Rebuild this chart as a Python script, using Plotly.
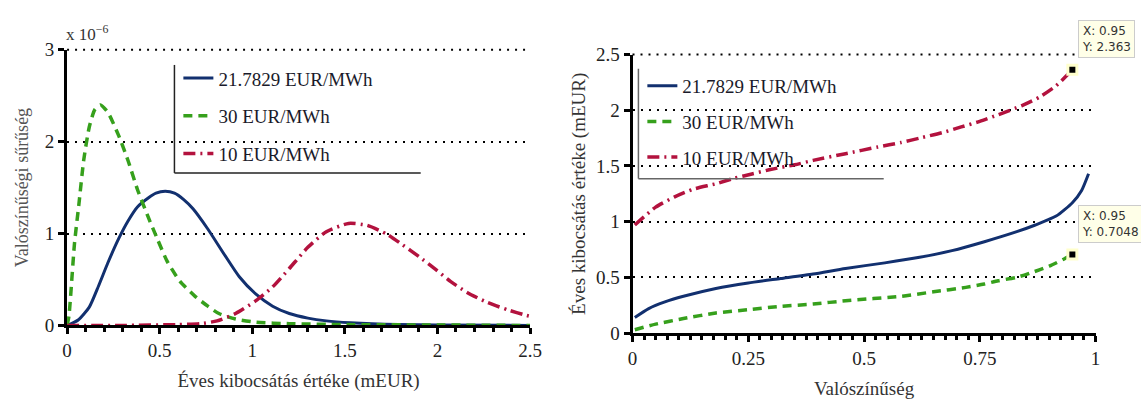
import plotly.graph_objects as go

# ---------------- data: left plot (density, x 1e-6) ----------------
pdf_blue_x = [0.0, 0.06, 0.12, 0.17, 0.22, 0.28, 0.33, 0.38, 0.44, 0.48, 0.53, 0.58, 0.63, 0.68, 0.76, 0.85, 0.93, 1.02, 1.11, 1.20, 1.30, 1.40, 1.53, 1.79, 2.0, 2.5]
pdf_blue_y = [0.0, 0.06, 0.20, 0.43, 0.68, 0.95, 1.14, 1.29, 1.39, 1.44, 1.46, 1.44, 1.37, 1.27, 1.05, 0.77, 0.53, 0.34, 0.21, 0.13, 0.08, 0.05, 0.03, 0.01, 0.005, 0.0]

pdf_green_x = [0.0, 0.01, 0.04, 0.064, 0.09, 0.12, 0.15, 0.18, 0.22, 0.28, 0.33, 0.38, 0.44, 0.49, 0.54, 0.61, 0.69, 0.76, 0.82, 0.91, 1.02, 1.2, 1.5, 2.0, 2.5]
pdf_green_y = [0.0, 0.10, 0.89, 1.32, 1.80, 2.16, 2.35, 2.40, 2.32, 2.06, 1.79, 1.48, 1.17, 0.93, 0.70, 0.48, 0.32, 0.21, 0.13, 0.07, 0.035, 0.02, 0.01, 0.005, 0.0]

pdf_red_x = [0.0, 0.3, 0.6, 0.72, 0.81, 0.91, 1.02, 1.11, 1.20, 1.30, 1.40, 1.52, 1.62, 1.73, 1.81, 1.90, 1.99, 2.07, 2.16, 2.27, 2.38, 2.48, 2.5]
pdf_red_y = [0.0, 0.0, 0.01, 0.02, 0.05, 0.13, 0.27, 0.42, 0.62, 0.85, 1.02, 1.11, 1.09, 0.99, 0.88, 0.75, 0.61, 0.48, 0.36, 0.25, 0.17, 0.11, 0.10]

# ---------------- data: right plot (quantile function) ----------------
q_red_x = [0.005, 0.05, 0.09, 0.13, 0.18, 0.22, 0.26, 0.30, 0.35, 0.39, 0.46, 0.53, 0.58, 0.62, 0.67, 0.71, 0.75, 0.79, 0.84, 0.88, 0.915, 0.95]
q_red_y = [0.97, 1.13, 1.22, 1.29, 1.34, 1.39, 1.43, 1.47, 1.51, 1.55, 1.61, 1.67, 1.71, 1.75, 1.80, 1.85, 1.90, 1.96, 2.04, 2.12, 2.22, 2.363]

q_blue_x = [0.005, 0.035, 0.07, 0.11, 0.18, 0.25, 0.32, 0.39, 0.46, 0.545, 0.62, 0.69, 0.76, 0.83, 0.87, 0.915, 0.95, 0.97, 0.985]
q_blue_y = [0.14, 0.22, 0.28, 0.33, 0.40, 0.45, 0.49, 0.53, 0.58, 0.63, 0.68, 0.74, 0.82, 0.91, 0.97, 1.05, 1.17, 1.28, 1.43]

q_green_x = [0.005, 0.05, 0.11, 0.18, 0.25, 0.32, 0.39, 0.46, 0.58, 0.65, 0.72, 0.76, 0.79, 0.83, 0.86, 0.90, 0.93, 0.95]
q_green_y = [0.03, 0.08, 0.13, 0.18, 0.21, 0.24, 0.26, 0.29, 0.33, 0.37, 0.41, 0.44, 0.47, 0.50, 0.54, 0.60, 0.66, 0.7048]

tip_x = [0.95, 0.95]
tip_y = [2.363, 0.7048]
tip_labels = ["X: 0.95<br>Y: 2.363", "X: 0.95<br>Y: 0.7048"]

series_names = ["21.7829 EUR/MWh", "30 EUR/MWh", "10 EUR/MWh"]

left_xticks = [0, 0.5, 1, 1.5, 2, 2.5]
left_xticktext = ["0", "0.5", "1", "1.5", "2", "2.5"]
left_yticks = [0, 1, 2, 3]
right_xticks = [0, 0.25, 0.5, 0.75, 1]
right_xticktext = ["0", "0.25", "0.5", "0.75", "1"]
right_yticks = [0, 0.5, 1, 1.5, 2, 2.5]
right_yticktext = ["0", "0.5", "1", "1.5", "2", "2.5"]

# ---------------- styles ----------------
BLUE = "#12306f"
GREEN = "#36a01c"
RED = "#b3123e"
SERIF = "Liberation Serif"
GRID_DASH = "2px,6px"
W, H = 1141, 399
L_DOM_X = (63, 533)
L_DOM_Y = (333, 42)
R_DOM_X = (637, 1107)
R_DOM_Y = (341, 47)

def px_x(p):
    return p / W

def px_y(p):
    return 1 - p / H

fig = go.Figure()

styles = [(BLUE, "solid", 3), (GREEN, "9px,6px", 3.5), (RED, "12px,5px,2px,5px", 3.5)]

left_data = [(pdf_blue_x, pdf_blue_y), (pdf_green_x, pdf_green_y), (pdf_red_x, pdf_red_y)]
for i, ((xs, ys), (c, d, w)) in enumerate(zip(left_data, styles)):
    fig.add_trace(go.Scatter(x=xs, y=ys, mode="lines", name=series_names[i],
                             line=dict(color=c, dash=d, width=w, shape="spline", smoothing=0.6),
                             xaxis="x", yaxis="y", legend="legend", legendgroup="L%d" % i))

right_data = [(q_blue_x, q_blue_y), (q_green_x, q_green_y), (q_red_x, q_red_y)]
for i, ((xs, ys), (c, d, w)) in enumerate(zip(right_data, styles)):
    fig.add_trace(go.Scatter(x=xs, y=ys, mode="lines", name=series_names[i],
                             line=dict(color=c, dash=d, width=w, shape="spline", smoothing=0.6),
                             xaxis="x2", yaxis="y2", legend="legend2", legendgroup="R%d" % i))

fig.add_trace(go.Scatter(x=tip_x, y=tip_y, mode="markers", showlegend=False,
                         marker=dict(symbol="square", size=9, color="black",
                                     line=dict(color="#ffffcc", width=3)),
                         xaxis="x2", yaxis="y2", hoverinfo="skip"))

axis_common = dict(showline=True, linecolor="black", linewidth=3, ticks="outside",
                   tickwidth=3, ticklen=6, tickcolor="black", zeroline=False,
                   tickfont=dict(family=SERIF, size=19, color="#222"))

L_YMAX = left_yticks[-1]
R_YMAX = right_yticks[-1]

fig.update_layout(
    width=W, height=H, margin=dict(l=0, r=0, t=0, b=0),
    paper_bgcolor="white", plot_bgcolor="white", showlegend=True,
    xaxis=dict(domain=[px_x(L_DOM_X[0]), px_x(L_DOM_X[1])], range=[0, 2.5], anchor="y",
               tickvals=left_xticks, ticktext=left_xticktext, showgrid=False,
               minor=dict(ticks="outside", dtick=0.1, ticklen=4, tickwidth=2.5, tickcolor="black"),
               title=dict(text="Éves kibocsátás értéke (mEUR)", font=dict(family=SERIF, size=19, color="#333"), standoff=14),
               **axis_common),
    yaxis=dict(domain=[px_y(L_DOM_Y[0]), px_y(L_DOM_Y[1])], range=[0, L_YMAX], anchor="x",
               tickvals=left_yticks, showgrid=True, gridcolor="black", gridwidth=2, griddash=GRID_DASH,
               title=dict(text="Valószínűségi sűrűség", font=dict(family=SERIF, size=18, color="#555"), standoff=12),
               **axis_common),
    xaxis2=dict(domain=[px_x(R_DOM_X[0]), px_x(R_DOM_X[1])], range=[0, 1], anchor="y2",
                tickvals=right_xticks, ticktext=right_xticktext, showgrid=False,
                minor=dict(ticks="outside", dtick=0.025, ticklen=4, tickwidth=2.5, tickcolor="black"),
                title=dict(text="Valószínűség", font=dict(family=SERIF, size=19, color="#333"), standoff=14),
                **axis_common),
    yaxis2=dict(domain=[px_y(R_DOM_Y[0]), px_y(R_DOM_Y[1])], range=[0, R_YMAX], anchor="x2",
                tickvals=right_yticks, ticktext=right_yticktext, showgrid=True, gridcolor="black",
                gridwidth=2, griddash=GRID_DASH,
                title=dict(text="Éves kibocsátás értéke (mEUR)", font=dict(family=SERIF, size=19, color="#333"), standoff=6),
                **axis_common),
    legend=dict(x=px_x(176), y=px_y(52), xanchor="left", yanchor="top",
                bgcolor="rgba(0,0,0,0)", borderwidth=0, tracegroupgap=10,
                font=dict(family=SERIF, size=19, color="#1a1a2a")),
    legend2=dict(x=px_x(647), y=px_y(60), xanchor="left", yanchor="top",
                 bgcolor="rgba(0,0,0,0)", borderwidth=0, tracegroupgap=8,
                 font=dict(family=SERIF, size=19, color="#1a1a2a")),
)

# top gridlines (plotly drops the gridline at the range edge); drawn at the domain top edge
fig.add_shape(type="line", xref="paper", yref="paper", x0=px_x(L_DOM_X[0]), x1=px_x(L_DOM_X[1]),
              y0=px_y(L_DOM_Y[1]), y1=px_y(L_DOM_Y[1]), line=dict(color="black", width=2, dash=GRID_DASH))
fig.add_shape(type="line", xref="paper", yref="paper", x0=px_x(R_DOM_X[0]), x1=px_x(R_DOM_X[1]),
              y0=px_y(R_DOM_Y[1]), y1=px_y(R_DOM_Y[1]), line=dict(color="black", width=2, dash=GRID_DASH))

# L-shaped legend frames
fig.add_shape(type="line", xref="paper", yref="paper", x0=px_x(172), x1=px_x(172), y0=px_y(58), y1=px_y(172), line=dict(color="#222", width=1.5))
fig.add_shape(type="line", xref="paper", yref="paper", x0=px_x(172), x1=px_x(422), y0=px_y(172), y1=px_y(172), line=dict(color="#222", width=1.5))
fig.add_shape(type="line", xref="paper", yref="paper", x0=px_x(643), x1=px_x(643), y0=px_y(62), y1=px_y(178), line=dict(color="#666", width=1.5))
fig.add_shape(type="line", xref="paper", yref="paper", x0=px_x(643), x1=px_x(892), y0=px_y(178), y1=px_y(178), line=dict(color="#666", width=1.5))

# exponent label
fig.add_annotation(x=px_x(60), y=px_y(38), xref="paper", yref="paper", xanchor="left", yanchor="bottom",
                   text="x 10<sup>−6</sup>", showarrow=False, font=dict(family=SERIF, size=17, color="#333"))

# data tips
for tx, ty, lab in zip(tip_x, tip_y, tip_labels):
    fig.add_annotation(x=tx, y=ty, xref="x2", yref="y2", text=lab, showarrow=False,
                       xanchor="left", yanchor="bottom", xshift=6, yshift=12, align="left",
                       bgcolor="#ffffe8", bordercolor="#cccccc", borderwidth=1, borderpad=3,
                       font=dict(family="DejaVu Sans", size=12, color="#333"))

fig.write_html("out.html")
